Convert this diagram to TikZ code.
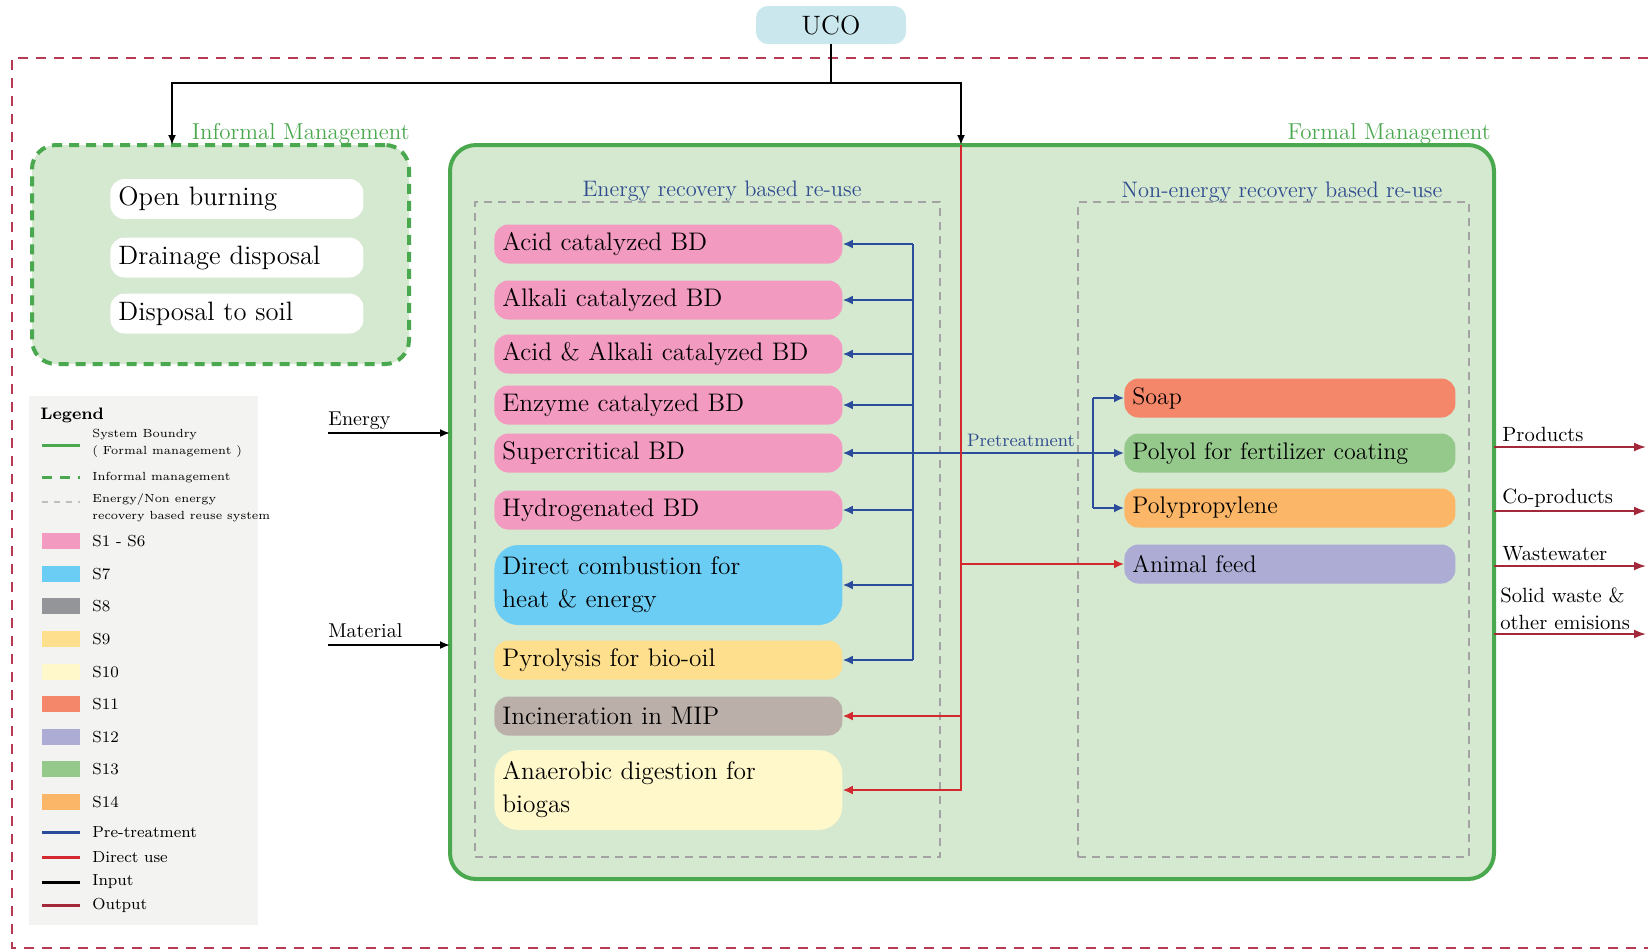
\documentclass[tikz,border=0pt]{standalone}
\usepackage{tikz}
\usetikzlibrary{arrows.meta}

\definecolor{bggreen}{HTML}{D5E8D0}
\definecolor{lngreen}{HTML}{4AA84E}
\definecolor{hdblue}{HTML}{2F4C8F}
\definecolor{preblue}{HTML}{2B4B9B}
\definecolor{dirred}{HTML}{D3282E}
\definecolor{outred}{HTML}{A3283A}
\definecolor{frmred}{HTML}{B73A55}
\definecolor{ucocyan}{HTML}{C9E7EC}
\definecolor{leggray}{HTML}{F3F3F2}
\definecolor{dshgray}{HTML}{A3A3A3}
\definecolor{sone}{HTML}{F39AC0}
\definecolor{sseven}{HTML}{6CCDF4}
\definecolor{seight}{HTML}{939598}
\definecolor{staupe}{HTML}{BBAFA9}
\definecolor{snine}{HTML}{FEDF8D}
\definecolor{sten}{HTML}{FFF8CA}
\definecolor{seleven}{HTML}{F4876A}
\definecolor{stwelve}{HTML}{ADACD5}
\definecolor{sthirteen}{HTML}{95C98C}
\definecolor{sfourteen}{HTML}{FBB767}

\tikzset{
  procbox/.style={anchor=west, rounded corners=7pt, minimum height=19.5pt,
    align=left, inner xsep=4pt, inner ysep=0pt, font=\fontsize{12.7}{16.5}\selectfont},
  ebox/.style={procbox, minimum width=174pt, text width=166pt},
  nbox/.style={procbox, minimum width=165.5pt, text width=157.5pt, font=\fontsize{12}{16.5}\selectfont},
  ibox/.style={procbox, fill=white, minimum width=126.5pt, text width=118.5pt, minimum height=20pt, font=\fontsize{13.3}{16}\selectfont},
  grpbox/.style={fill=bggreen, inner sep=0pt, outer sep=0pt},
  dashbox/.style={draw=dshgray, line width=0.8pt, dash pattern=on 4pt off 3pt, inner sep=0pt},
  preline/.style={draw=preblue, line width=0.9pt},
  pretip/.style={preline, -{Latex[length=5pt,width=4.5pt]}},
  dirline/.style={draw=dirred, line width=0.9pt},
  dirtip/.style={dirline, -{Latex[length=5pt,width=4.5pt]}},
  inpline/.style={draw=black, line width=0.9pt},
  inptip/.style={inpline, -{Latex[length=5pt,width=4pt]}},
  outtip/.style={draw=outred, line width=0.9pt, -{Latex[length=6pt,width=4.5pt]}},
  redframe/.style={draw=frmred, line width=0.8pt, dash pattern=on 5pt off 4pt},
  lgtxt/.style={anchor=west, align=left, inner sep=0pt, font=\fontsize{8}{10}\selectfont},
  lgsmall/.style={lgtxt, font=\fontsize{5.9}{8.5}\selectfont},
  lgsw/.style={minimum width=19pt, minimum height=8pt, inner sep=0pt, anchor=west},
  lgline/.style={line width=1.5pt},
  grplbl/.style={anchor=base east, text=lngreen, inner sep=0pt, font=\fontsize{11.5}{13}\selectfont},
}

\begin{document}
\begin{tikzpicture}[x=0.5pt,y=-0.5pt]
		%%%%% FRAME %%%%%
		\useasboundingbox (0,0) rectangle (1648,950);
		\draw[redframe] (1648,58) -- (12,58) -- (12,948) -- (1648,948);
		
		\node[fill=ucocyan, rounded corners=6pt, minimum width=75pt, minimum height=19pt, font=\fontsize{13.3}{15}\selectfont] (uco) at (831,25) {UCO};
		
		%%%%% GROUPS %%%%%
		\node[grpbox, draw=lngreen, line width=2pt, dash pattern=on 5pt off 3.5pt, rounded corners=12pt, minimum width=188.5pt, minimum height=109.5pt] (inf) at (220.5,254.5) {};
		\node[grplbl] (inflbl) at (410,139) {Informal Management};
		
		\node[grpbox, draw=lngreen, line width=2pt, rounded corners=13pt, minimum width=522pt, minimum height=367pt] (frm) at (972,512) {};
		\node[grplbl] (frmlbl) at (1491,139) {Formal Management};
		
		\node[dashbox, minimum width=232.5pt, minimum height=327.5pt] (enrg) at (707.5,529.5) {};
		\node[dashbox, minimum width=195.5pt, minimum height=327.5pt] (nonen) at (1273.5,529.5) {};
		\node[anchor=base, text=hdblue, inner sep=0pt, font=\fontsize{11.2}{13}\selectfont] (enrglbl) at (722,196) {Energy recovery based re-use};
		\node[anchor=base, text=hdblue, inner sep=0pt, font=\fontsize{11.2}{13}\selectfont] (nonenlbl) at (1282,197) {Non-energy recovery based re-use};
		
		%%%%% INFORMAL %%%%%
		\node[ibox] (burn) at (110,199) {Open burning};
		\node[ibox] (drain) at (110,257.5) {Drainage disposal};
		\node[ibox] (soil) at (110,313.5) {Disposal to soil};
		
		%%%%% ENERGY RECOVERY %%%%%
		\node[ebox, fill=sone] (acid) at (494,244) {Acid catalyzed BD};
		\node[ebox, fill=sone] (alkali) at (494,300) {Alkali catalyzed BD};
		\node[ebox, fill=sone] (both) at (494,354) {Acid \& Alkali catalyzed BD};
		\node[ebox, fill=sone] (enzyme) at (494,405) {Enzyme catalyzed BD};
		\node[ebox, fill=sone] (super) at (494,453) {Supercritical BD};
		\node[ebox, fill=sone] (hydro) at (494,510) {Hydrogenated BD};
		\node[ebox, fill=sseven, minimum height=40pt, rounded corners=12pt] (direct) at (494,585) {Direct combustion for\\heat \& energy};
		\node[ebox, fill=snine] (pyro) at (494,660) {Pyrolysis for bio-oil};
		\node[ebox, fill=staupe] (incin) at (494,716) {Incineration in MIP};
		\node[ebox, fill=sten, minimum height=40pt, rounded corners=12pt] (anaer) at (494,790) {Anaerobic digestion for\\biogas};
		
		%%%%% NON-ENERGY RECOVERY %%%%%
		\node[nbox, fill=seleven] (soap) at (1124,398) {Soap};
		\node[nbox, fill=sthirteen] (polyol) at (1124,453) {Polyol for fertilizer coating};
		\node[nbox, fill=sfourteen] (ppl) at (1124,508) {Polypropylene};
		\node[nbox, fill=stwelve] (feed) at (1124,564) {Animal feed};
		
		%%%%% INPUT %%%%%
		\coordinate (split) at (831,83);
		\coordinate (infin) at (172,145);
		\coordinate (frmin) at (961,145);
		\draw[inpline] (uco.south) -- (split);
		\draw[inptip] (split) -| (infin);
		\draw[inptip] (split) -| (frmin);
		
		\coordinate (enin) at (328,433);
		\coordinate (matin) at (328,645);
		\node[anchor=base west, inner sep=0pt, font=\fontsize{10}{12}\selectfont] (enlbl) at (328,425) {Energy};
		\node[anchor=base west, inner sep=0pt, font=\fontsize{10}{12}\selectfont] (matlbl) at (328,637) {Material};
		\draw[inptip] (enin) -- (frm.west |- enin);
		\draw[inptip] (matin) -- (frm.west |- matin);
		
		%%%%% PRE-TREATMENT %%%%%
		\coordinate (pre) at (913,244);
		\coordinate (pretr) at (1093,453);
		\draw[preline] (pre |- acid.east) -- (pre |- pyro.east);
		\draw[pretip] (pre |- acid.east) -- (acid.east);
		\draw[pretip] (pre |- alkali.east) -- (alkali.east);
		\draw[pretip] (pre |- both.east) -- (both.east);
		\draw[pretip] (pre |- enzyme.east) -- (enzyme.east);
		\draw[pretip] (pre |- hydro.east) -- (hydro.east);
		\draw[pretip] (pre |- direct.east) -- (direct.east);
		\draw[pretip] (pre |- pyro.east) -- (pyro.east);
		\draw[pretip] (pretr) -- (super.east);
		\node[anchor=base, text=hdblue, inner sep=0pt, font=\fontsize{9}{11}\selectfont] (pretrlbl) at (1021,446) {Pretreatment};
		\draw[preline] (pretr |- soap.west) -- (pretr |- ppl.west);
		\draw[pretip] (pretr |- soap.west) -- (soap.west);
		\draw[pretip] (pretr) -- (polyol.west);
		\draw[pretip] (pretr |- ppl.west) -- (ppl.west);
		
		%%%%% DIRECT USE %%%%%
		\draw[dirtip] (frmin) |- (anaer.east);
		\draw[dirtip] (frmin |- incin.east) -- (incin.east);
		\draw[dirtip] (frmin |- feed.west) -- (feed.west);
		
		%%%%% OUTPUT %%%%%
		\coordinate (prodend) at (1646,447);
		\coordinate (coend) at (1646,511);
		\coordinate (wwend) at (1646,566);
		\coordinate (swend) at (1646,634);
		\draw[outtip] (frm.east |- prodend) -- (prodend);
		\draw[outtip] (frm.east |- coend) -- (coend);
		\draw[outtip] (frm.east |- wwend) -- (wwend);
		\draw[outtip] (frm.east |- swend) -- (swend);
		\node[anchor=base west, inner sep=0pt, font=\fontsize{10.3}{13.5}\selectfont] (prodlbl) at (1502,441) {Products};
		\node[anchor=base west, inner sep=0pt, font=\fontsize{10.3}{13.5}\selectfont] (colbl) at (1502,503) {Co-products};
		\node[anchor=base west, inner sep=0pt, font=\fontsize{10.3}{13.5}\selectfont] (wwlbl) at (1502,560) {Wastewater};
		\node[anchor=south west, align=left, inner sep=0pt, font=\fontsize{10.3}{13.5}\selectfont] (swlbl) at (1500,630) {Solid waste \&\\other emisions};
		
		%%%%% LEGEND %%%%%
		\fill[leggray] (29,396) rectangle (258,925);
		\node[anchor=base west, inner sep=0pt, font=\bfseries\fontsize{8.3}{10}\selectfont] (leg) at (40,419) {Legend};
		
		\draw[lgline, draw=lngreen] (42,445) -- (80,445);
		\node[lgsmall] (lsys) at (92,443) {System Boundry\\( Formal management )};
		\draw[lgline, draw=lngreen, dash pattern=on 5pt off 4pt] (42,477) -- (80,477);
		\node[lgsmall] (linf) at (92,478) {Informal management};
		\draw[line width=1pt, draw=dshgray!70, dash pattern=on 3pt off 3pt] (42,502) -- (80,502);
		\node[lgsmall] (lsub) at (92,508) {Energy/Non energy\\recovery based reuse system};
		
		\node[lgsw, fill=sone] (sw1) at (42,541) {};
		\node[lgtxt] (lt1) at (92,541) {S1 - S6};
		\node[lgsw, fill=sseven] (sw7) at (42,574) {};
		\node[lgtxt] (lt7) at (92,574) {S7};
		\node[lgsw, fill=seight] (sw8) at (42,606) {};
		\node[lgtxt] (lt8) at (92,606) {S8};
		\node[lgsw, fill=snine] (sw9) at (42,639) {};
		\node[lgtxt] (lt9) at (92,639) {S9};
		\node[lgsw, fill=sten] (sw10) at (42,672) {};
		\node[lgtxt] (lt10) at (92,672) {S10};
		\node[lgsw, fill=seleven] (sw11) at (42,704) {};
		\node[lgtxt] (lt11) at (92,704) {S11};
		\node[lgsw, fill=stwelve] (sw12) at (42,737) {};
		\node[lgtxt] (lt12) at (92,737) {S12};
		\node[lgsw, fill=sthirteen] (sw13) at (42,769) {};
		\node[lgtxt] (lt13) at (92,769) {S13};
		\node[lgsw, fill=sfourteen] (sw14) at (42,802) {};
		\node[lgtxt] (lt14) at (92,802) {S14};
		
		\draw[lgline, draw=preblue] (42,832) -- (80,832);
		\node[lgtxt] (lpre) at (92,832) {Pre-treatment};
		\draw[lgline, draw=dirred] (42,857) -- (80,857);
		\node[lgtxt] (ldir) at (92,857) {Direct use};
		\draw[lgline, draw=black] (42,882) -- (80,882);
		\node[lgtxt] (linp) at (92,882) {Input};
		\draw[lgline, draw=outred] (42,905) -- (80,905);
		\node[lgtxt] (lout) at (92,905) {Output};
		
		%%%%% END %%%%%
	\end{tikzpicture}
\end{document}
